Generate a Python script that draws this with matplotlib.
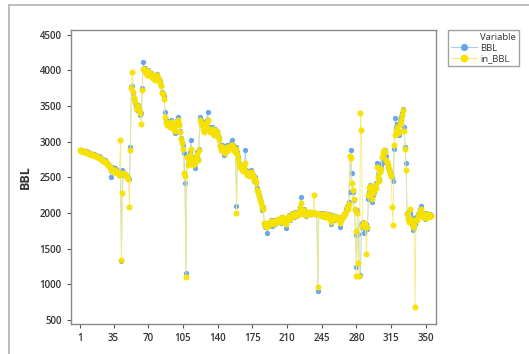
import numpy as np
import matplotlib
matplotlib.use("Agg")
import matplotlib.pyplot as plt
from matplotlib.lines import Line2D

plt.rcParams['font.family'] = ['Open Sans', 'DejaVu Sans']

# values (index 1..355)
bbl = [
    2890, 2880, 2885, 2870, 2875, 2860, 2865, 2850, 2855, 2840,
    2845, 2830, 2835, 2820, 2825, 2810, 2815, 2800, 2790, 2795,
    2780, 2770, 2760, 2750, 2740, 2745, 2720, 2700, 2690, 2680,
    2650, 2510, 2640, 2620, 2600, 2630, 2590, 2580, 2600, 2570,
    2560, 2540, 1330, 2600, 2580, 2560, 2550, 2540, 2520, 2500,
    2480, 2930, 3770, 3780, 3680, 3600, 3550, 3500, 3450, 3520,
    3480, 3380, 3400, 3760, 4120, 4000, 4040, 3980, 3950, 4000,
    3970, 3930, 3960, 3940, 3900, 3920, 3880, 3920, 3950, 3900,
    3880, 3850, 3800, 3700, 3690, 3640, 3420, 3300, 3250, 3280,
    3260, 3220, 3300, 3250, 3200, 3180, 3120, 3250, 3300, 3350,
    3250, 3150, 3050, 3000, 2950, 2840, 2420, 1160, 2800, 2700,
    2750, 2850, 3020, 2780, 2700, 2760, 2630, 2800, 2850, 2760,
    2900, 3350, 3300, 3250, 3200, 3150, 3280, 3250, 3300, 3420,
    3200, 3150, 3180, 3200, 3150, 3100, 3180, 3120, 3150, 3100,
    3050, 2950, 2900, 2950, 2920, 2810, 2850, 2900, 2950, 2900,
    2930, 2950, 2980, 3020, 2950, 2900, 2880, 2920, 2100, 2850,
    2780, 2700, 2650, 2680, 2620, 2600, 2650, 2880, 2600, 2550,
    2580, 2550, 2530, 2600, 2560, 2540, 2450, 2500, 2430, 2350,
    2300, 2250, 2200, 2150, 2040, 2080, 1850, 1800, 1830, 1720,
    1850, 1830, 1880, 1900, 1820, 1870, 1900, 1850, 1880, 1900,
    1920, 1880, 1900, 1860, 1950, 1900, 1880, 1920, 1790, 1900,
    1950, 1970, 1900, 1950, 2000, 1980, 1950, 2020, 1960, 2000,
    1980, 2030, 2080, 2230, 2000, 1990, 2050, 2000, 1960, 2010,
    1980, 2000, 2020, 1990, 2000, 2010, 2000, 1990, 2000, 1980,
    910, 1990, 2000, 1980, 1960, 2000, 1970, 1950, 1990, 1960,
    1950, 1980, 1920, 1840, 1970, 1950, 1900, 1960, 1940, 1920,
    1950, 1900, 1810, 1900, 1940, 1960, 1990, 2000, 2050, 2100,
    2090, 2150, 2300, 2880, 2560, 2300, 2180, 2040, 1690, 1250,
    2040, 1700, 1120, 1130, 1850, 1800, 1880, 1720, 1780, 1850,
    1780, 2200, 2300, 2400, 2350, 2160, 2250, 2300, 2380, 2420,
    2700, 2550, 2480, 2600, 2650, 2700, 2750, 2850, 2880, 2800,
    2700, 2650, 2600, 2580, 2550, 2500, 2450, 2900, 3330, 3200,
    3250, 3150, 3100, 3300, 3350, 3400, 3460, 3200, 2930, 2700,
    2000, 1950, 1900, 2000, 1950, 1850, 1760, 1800, 1850, 1950,
    1920, 1980, 2000, 2050, 2100, 2000, 1950, 1980, 1920, 2000,
    1950, 1990, 1960, 1980, 1970,
]

in_bbl = [
    2880, 2870, 2875, 2865, 2860, 2855, 2850, 2845, 2840, 2835,
    2830, 2825, 2820, 2815, 2810, 2800, 2795, 2790, 2780, 2775,
    2770, 2760, 2750, 2735, 2730, 2720, 2710, 2690, 2680, 2660,
    2640, 2600, 2620, 2600, 2580, 2610, 2570, 2560, 2580, 2560,
    2540, 3020, 1340, 2280, 2560, 2550, 2530, 2520, 2510, 2480,
    2090, 2880, 3760, 3980, 3700, 3620, 3560, 3480, 3470, 3500,
    3450, 3400, 3250, 3720, 4020, 4000, 4020, 3960, 3940, 3990,
    3960, 3920, 3950, 3930, 3890, 3910, 3870, 3900, 3930, 3880,
    3860, 3820, 3780, 3690, 3670, 3600, 3350, 3280, 3230, 3260,
    3240, 3200, 3280, 3230, 3190, 3160, 3150, 3230, 3280, 3300,
    3230, 3130, 3040, 2980, 2900, 2560, 2520, 1100, 2780, 2680,
    2730, 2820, 2900, 2760, 2680, 2740, 2700, 2780, 2830, 2740,
    2880, 3300, 3260, 3230, 3180, 3140, 3250, 3220, 3280, 3300,
    3180, 3140, 3160, 3180, 3130, 3090, 3160, 3100, 3130, 3080,
    3030, 2940, 2890, 2930, 2900, 2850, 2840, 2880, 2930, 2880,
    2910, 2930, 2960, 2950, 2930, 2880, 2860, 2900, 2000, 2830,
    2760, 2690, 2640, 2660, 2600, 2590, 2630, 2700, 2580, 2540,
    2560, 2540, 2520, 2580, 2550, 2520, 2470, 2480, 2420, 2330,
    2290, 2240, 2180, 2140, 2080, 2060, 1860, 1820, 1840, 1800,
    1860, 1840, 1870, 1890, 1840, 1860, 1890, 1860, 1870, 1890,
    1910, 1890, 1890, 1870, 1940, 1910, 1890, 1910, 1850, 1900,
    1940, 1960, 1910, 1940, 1990, 1970, 1960, 2000, 1970, 1990,
    1970, 2020, 2070, 2140, 2010, 1990, 2040, 2000, 1970, 2000,
    1990, 2000, 2010, 1990, 2000, 2000, 2250, 1990, 2000, 1980,
    967, 1980, 1990, 1970, 1960, 1990, 1960, 1950, 1980, 1950,
    1950, 1970, 1930, 1880, 1960, 1940, 1910, 1950, 1930, 1920,
    1940, 1910, 1860, 1900, 1930, 1950, 1980, 1990, 2030, 2080,
    2060, 2120, 2800, 2770, 2420, 2330, 2200, 2050, 1750, 1110,
    2000, 1300, 1110, 3400, 3160, 1820, 1850, 1860, 1800, 1420,
    1800, 2250, 2350, 2380, 2300, 2200, 2280, 2320, 2400, 2350,
    2650, 2500, 2450, 2580, 2620, 2780, 2850, 2880, 2860, 2750,
    2720, 2680, 2620, 2560, 2520, 2090, 1830, 2950, 3100, 3150,
    3200, 3120, 3150, 3250, 3300, 3380, 3440, 3150, 2900, 2600,
    1980, 1920, 1880, 2050, 1920, 1880, 1800, 1820, 680, 1900,
    1900, 1960, 1990, 2030, 2060, 1990, 1940, 1970, 1930, 1990,
    1940, 1980, 1950, 1970, 1960,
]

xticks = [1, 35, 70, 105, 140, 175, 210, 245, 280, 315, 350]
yticks = [500, 1000, 1500, 2000, 2500, 3000, 3500, 4000, 4500]

blue = '#6aa6ea'
yellow = '#f7e200'
txt = '#333333'

idx = np.arange(1, len(bbl) + 1)

fig = plt.figure(figsize=(5.29, 3.54), dpi=100)
ax = fig.add_axes([0.134, 0.084, 0.691, 0.831])

ax.plot(idx, bbl, '-', color='#a8ccf2', lw=0.6, zorder=2)
ax.plot(idx, bbl, 'o', color=blue, ms=3.8, mew=0, zorder=3)
ax.plot(idx, in_bbl, '-', color='#f3ec80', lw=0.6, zorder=4)
ax.plot(idx, in_bbl, 'o', color=yellow, ms=4.4, mew=0, alpha=0.95, zorder=5)

ax.set_xlim(-8, 360.6)
ax.set_ylim(440, 4566)
ax.set_xticks(xticks)
ax.set_yticks(yticks)
ax.tick_params(labelsize=7, colors='#555555', labelcolor=txt, length=3, width=0.8)
for lab in ax.get_xticklabels() + ax.get_yticklabels():
    lab.set_fontweight('semibold')
for s in ax.spines.values():
    s.set_color('#8a8a8a')
    s.set_linewidth(1.0)
ax.set_ylabel('BBL', fontsize=9, fontweight='bold', color=txt, labelpad=6)

# legend
handles = [Line2D([], [], ls='none'),
           Line2D([], [], color='#a8ccf2', lw=0.8, marker='o', mfc=blue, mec=blue, ms=4.2),
           Line2D([], [], color='#f3ec80', lw=0.8, marker='o', mfc=yellow, mec=yellow, ms=4.6)]
leg = fig.legend(handles, ['Variable', 'BBL', 'in_BBL'], loc='upper left',
                 bbox_to_anchor=(447.7 / 529, 1 - 30 / 354), fontsize=6.8,
                 frameon=True, fancybox=False, borderpad=0.35, handlelength=2.8,
                 handletextpad=0.3, labelspacing=0.15, borderaxespad=0)
leg.get_frame().set_edgecolor('#8a8a8a')
leg.get_frame().set_linewidth(1.0)
for t in leg.get_texts():
    t.set_color(txt)

# outer frame of the original graph window
fig.add_artist(Line2D([9 / 529, 1.0], [1 - 5 / 354, 1 - 5 / 354], color='#bdbdbd', lw=1.4))
fig.add_artist(Line2D([9 / 529, 9 / 529], [0, 1 - 5 / 354], color='#bdbdbd', lw=1.4))

plt.savefig('out.png', dpi=100)
plt.close()
